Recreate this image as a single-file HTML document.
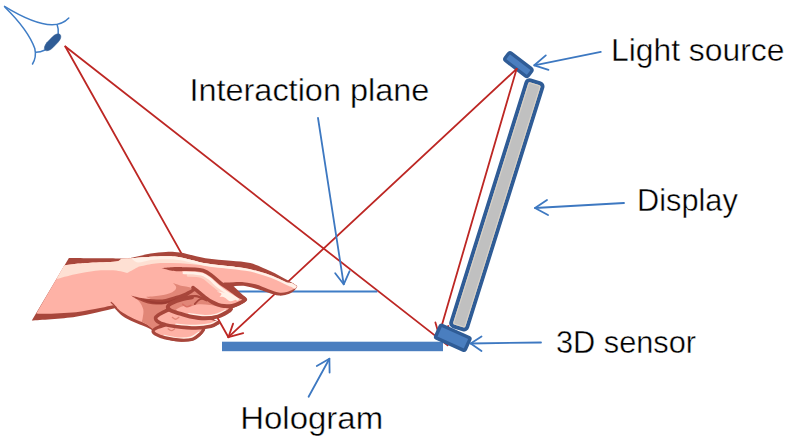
<!DOCTYPE html>
<html>
<head>
<meta charset="utf-8">
<title>Hologram interaction diagram</title>
<style>
  html, body { margin: 0; padding: 0; background: #ffffff; }
  body { width: 793px; height: 444px; overflow: hidden; font-family: "Liberation Sans", sans-serif; }
  svg { display: block; }
  .lbl { font-family: "Liberation Sans", sans-serif; font-size: 31.6px; fill: #000000; stroke: #ffffff; stroke-width: 0.4px; }
  .red { stroke: #bd2724; stroke-width: 1.8; fill: none; stroke-linecap: round; stroke-linejoin: round; }
  .blu { stroke: #3d78c1; stroke-width: 1.8; fill: none; stroke-linecap: round; stroke-linejoin: round; }
</style>
</head>
<body>
<svg width="793" height="444" viewBox="0 0 793 444">
  <rect x="0" y="0" width="793" height="444" fill="#ffffff"/>

  <!-- ============ light source ============ -->
  <g transform="translate(518.4 64.6) rotate(37.5)">
    <rect x="-14.6" y="-4.7" width="29.2" height="9.4" rx="2.2" ry="2.2" fill="#4a7ebf" stroke="#2f5c96" stroke-width="3.3"/>
  </g>

  <!-- ============ red rays ============ -->
  <g class="red">
    <!-- eye -> hologram left end (passes behind the hand) -->
    <line x1="65.3" y1="46.5" x2="228.4" y2="337.2"/>
    <!-- eye -> 3D sensor -->
    <line x1="65.3" y1="46.5" x2="447.6" y2="345.4"/>
    <!-- light source -> hologram left end, with arrow head -->
    <line x1="516.6" y1="68.9" x2="228.4" y2="337.2"/>
    <polyline points="233.1,323.6 228.4,337.2 243.2,333.1"/>
    <!-- light source -> 3D sensor, with arrow head -->
    <line x1="516.6" y1="68.9" x2="439" y2="335"/>
    <polyline points="435.4,322.4 439,335 448.4,326"/>
  </g>

  <!-- ============ interaction plane (thin) ============ -->
  <line x1="236.5" y1="291.4" x2="377.3" y2="291.4" stroke="#3f7dc6" stroke-width="2"/>

  <!-- ============ hologram (thick bar) ============ -->
  <rect x="222" y="341.7" width="221" height="9.5" fill="#4a7ebf"/>

  <!-- ============ display ============ -->
  <g transform="translate(496.7 205.3) rotate(17.4)">
    <rect x="-8.35" y="-129.4" width="16.7" height="257.8" rx="3.2" ry="3.2" fill="#c0c0c0" stroke="#2f5c96" stroke-width="3.9"/>
    <rect x="-5.9" y="-126.9" width="11.8" height="252.8" rx="1.6" ry="1.6" fill="none" stroke="#d8d1c6" stroke-width="1.1"/>
  </g>

  <!-- ============ 3D sensor ============ -->
  <g transform="translate(452.8 337.8) rotate(24.3)">
    <rect x="-16.2" y="-6.9" width="32.4" height="13.8" rx="1.6" ry="1.6" fill="#4a7ebf" stroke="#2f5c96" stroke-width="3.5"/>
  </g>

  <!-- ============ blue pointer arrows ============ -->
  <g class="blu">
    <!-- interaction plane -->
    <line x1="318" y1="118" x2="343.7" y2="284.3"/>
    <polyline points="335.2,273.3 343.7,284.3 349.6,271.2"/>
    <!-- light source -->
    <line x1="600.8" y1="51.9" x2="534.3" y2="65.3"/>
    <polyline points="545.8,55.4 534.3,65.3 548.5,69.8"/>
    <!-- display -->
    <line x1="624" y1="203" x2="535" y2="208"/>
    <polyline points="547,200 535,208 548,215"/>
    <!-- 3D sensor -->
    <line x1="541" y1="342.5" x2="470.7" y2="343.5"/>
    <polyline points="481.5,336.5 470.7,343.5 481.5,351"/>
    <!-- hologram -->
    <line x1="308.6" y1="396.8" x2="329.4" y2="358.8"/>
    <polyline points="316.8,366 329.4,358.8 329.6,372.6"/>
  </g>

  <!-- ============ labels ============ -->
  <text class="lbl" x="189.4" y="100.6" textLength="240" lengthAdjust="spacingAndGlyphs">Interaction plane</text>
  <text class="lbl" x="611" y="60.8" textLength="173.4" lengthAdjust="spacingAndGlyphs">Light source</text>
  <text class="lbl" x="637.1" y="210.6" textLength="100.7" lengthAdjust="spacingAndGlyphs">Display</text>
  <text class="lbl" x="556" y="353" textLength="140" lengthAdjust="spacingAndGlyphs">3D sensor</text>
  <text class="lbl" x="240.2" y="428.5" textLength="143" lengthAdjust="spacingAndGlyphs">Hologram</text>

  <!-- ============ eye ============ -->
  <g id="eye" fill="none" stroke="#3f7dc6" stroke-width="1.5" stroke-linecap="round">
    <path d="M4.5 6.3 C 22 17, 40 24.5, 52 24.8 C 60 24.8, 65 22, 68.8 18"/>
    <path d="M5 7.2 C 18 20, 30 35, 34.8 48.5 C 36 54, 35 60, 32.5 64"/>
    <path d="M57.2 25 C 58.3 28, 58.5 31, 58.2 33.5"/>
    <path d="M35.8 52.3 C 39 52.3, 42 51.5, 45 50"/>
    <rect x="-10.8" y="-3.9" width="21.6" height="7.8" rx="7" ry="3.9" transform="translate(52.6 42.3) rotate(-46)" fill="#2f5c96" stroke="#2f5c96" stroke-width="0.5"/>
  </g>

  <!-- HAND_START -->
<g id="hand">
<path d="M68.9 258.1C77.6 258.2 110.9 258.5 121.3 258.4 C131.7 258.3 126.4 258.5 131.3 257.7 C136.2 256.9 144.8 254.6 150.6 253.6 C156.3 252.6 160.9 252.1 165.8 251.9 C170.7 251.7 173.4 251.6 180.0 252.6 C186.6 253.6 197.0 256.8 205.4 258.2 C213.8 259.6 223.2 259.9 230.7 260.7 C238.2 261.5 243.7 261.4 250.3 263.1 C257.0 264.9 264.7 268.5 270.6 271.2 C276.5 273.9 281.8 277.1 285.8 279.3 C289.9 281.5 293.0 283.2 294.9 284.4 C296.8 285.6 297.4 285.5 297.2 286.6 C297.0 287.7 295.2 289.9 293.5 291.2 C291.8 292.5 289.3 293.9 286.8 294.6 C284.3 295.3 281.8 295.9 278.7 295.6 C275.6 295.3 272.4 294.0 268.5 292.8 C264.6 291.6 259.8 289.8 255.4 288.6 C251.0 287.4 245.7 286.0 242.0 285.6 C238.3 285.2 234.9 286.2 233.5 286.3C234.7 287.4 238.6 291.0 240.9 293.2 C243.2 295.4 247.2 297.5 247.2 299.4 C247.2 301.3 243.3 303.0 240.9 304.5 C238.5 306.0 234.5 307.4 232.7 308.3 C230.9 309.2 230.6 309.9 230.2 310.2C229.2 311.1 226.7 314.1 224.0 315.5 C221.3 316.9 214.9 317.8 214.0 318.8 C213.1 319.8 217.8 321.1 218.6 321.6C218.7 321.9 219.8 322.7 219.0 323.5 C218.2 324.3 216.3 325.6 214.0 326.5 C211.7 327.4 206.8 327.8 205.0 328.6 C203.2 329.4 203.5 330.8 203.2 331.2C202.9 331.8 203.1 333.0 201.5 334.5 C199.9 336.0 197.3 338.8 193.6 340.0 C189.9 341.2 184.2 341.8 179.4 341.6 C174.6 341.4 168.9 340.1 165.0 338.8 C161.1 337.5 158.1 335.4 156.0 334.0 C153.9 332.6 154.4 331.8 152.6 330.6 C150.8 329.4 148.1 328.0 145.0 326.6 C141.9 325.2 137.6 323.9 133.8 322.1 C130.1 320.3 125.7 318.2 122.5 315.9 C119.3 313.6 115.9 309.6 114.6 308.3C108.1 309.7 89.5 314.8 75.7 316.8 C61.9 318.9 39.1 320.0 31.8 320.6L68.9 258.1Z" fill="#a8463b" />
<path d="M64.2 265.4C66.5 265.1 73.7 264.1 78.0 263.6 C82.3 263.2 84.0 263.1 90.3 262.7 C96.5 262.3 110.3 262.2 115.5 261.5 C120.7 260.8 120.3 259.2 121.3 258.7L131.3 258.3C134.5 258.1 144.8 257.2 150.6 256.8 C156.3 256.4 160.7 256.1 165.8 256.2 C170.9 256.3 174.4 256.2 181.0 257.4 C187.6 258.6 197.1 261.7 205.4 263.2 C213.7 264.7 223.2 265.3 230.7 266.3 C238.2 267.3 243.7 267.7 250.3 269.2 C257.0 270.7 264.7 273.2 270.6 275.3 C276.5 277.4 282.3 280.6 285.8 281.9 C289.3 283.2 289.8 282.3 291.6 283.1 C293.5 283.9 296.7 285.4 296.9 286.5 C297.1 287.6 294.6 288.7 292.9 289.6 C291.2 290.5 289.2 291.5 286.8 292.0 C284.4 292.5 281.8 293.0 278.7 292.5 C275.6 292.0 272.4 290.6 268.5 289.2 C264.6 287.8 260.1 285.4 255.4 284.2 C250.7 283.0 244.2 282.2 240.1 282.0 C235.9 281.8 232.1 282.7 230.5 282.8L226.0 286.0C224.2 287.0 220.0 289.7 215.0 292.0 C210.0 294.3 203.5 297.7 196.0 300.0 C188.5 302.3 176.7 303.0 170.0 306.0 C163.3 309.0 158.8 314.0 156.0 318.0 C153.2 322.0 154.2 328.4 153.5 330.0 C152.8 331.6 153.0 328.7 151.6 327.6 C150.2 326.5 148.0 325.0 145.0 323.5 C142.0 322.0 137.6 320.6 133.8 318.8 C130.1 317.0 125.6 314.7 122.5 312.6 C119.4 310.5 116.5 307.3 115.3 306.2C114.9 306.1 115.5 305.0 113.0 305.3 C110.5 305.6 106.2 307.0 100.0 308.1 C93.8 309.2 85.2 311.2 76.0 312.2 C66.8 313.1 51.6 313.6 45.0 313.8 C38.4 314.0 37.8 313.5 36.3 313.4L64.2 265.4Z" fill="#feb2a6" />
<path d="M111.2 302.4C111.6 302.8 112.8 303.8 113.6 304.6 C114.4 305.4 115.8 306.9 116.2 307.4" fill="none" stroke="#a8463b" stroke-width="1.3" stroke-linecap="round" stroke-linejoin="round" />
<path d="M64.2 265.4C66.5 265.1 73.7 264.1 78.0 263.6 C82.3 263.2 84.0 263.1 90.3 262.7 C96.5 262.3 110.3 262.2 115.5 261.5 C120.7 260.8 120.3 259.2 121.3 258.7L131.3 258.3C134.5 258.1 144.8 257.2 150.6 256.8 C156.3 256.4 160.7 256.1 165.8 256.2 C170.9 256.3 174.4 256.2 181.0 257.4 C187.6 258.6 197.1 261.7 205.4 263.2 C213.7 264.7 223.9 265.4 230.7 266.3 C237.5 267.2 243.4 268.4 246.0 268.8C243.3 268.8 236.0 269.0 230.0 268.6 C224.0 268.2 216.7 267.0 210.0 266.2 C203.3 265.4 196.3 264.4 190.0 263.9 C183.7 263.4 177.7 263.2 172.0 263.1 C166.3 263.0 160.9 262.9 155.6 263.4 C150.3 263.9 143.8 265.4 140.4 266.3 C137.0 267.2 137.2 267.7 135.0 268.8 C132.8 269.9 128.6 272.3 127.3 273.0C126.2 272.7 123.4 271.7 120.6 271.2 C117.8 270.7 114.7 270.3 110.5 270.2 C106.3 270.1 101.3 270.0 95.4 270.7 C89.5 271.4 81.7 272.8 75.2 274.2 C68.7 275.6 59.7 278.2 56.6 279.0L64.2 265.4Z" fill="#fee0d3" />
<path d="M131.3 258.3C134.5 258.1 144.8 257.2 150.6 256.8 C156.3 256.4 160.7 256.1 165.8 256.2 C170.9 256.3 174.4 256.2 181.0 257.4 C187.6 258.6 197.1 261.7 205.4 263.2 C213.7 264.7 223.2 265.3 230.7 266.3 C238.2 267.3 243.7 267.7 250.3 269.2 C257.0 270.7 264.7 273.2 270.6 275.3 C276.5 277.4 282.3 280.6 285.8 281.9 C289.3 283.2 289.8 282.4 291.6 283.1 C293.4 283.9 295.9 285.8 296.8 286.4C296.4 286.8 295.7 288.6 294.6 288.6 C293.6 288.6 292.1 287.3 290.5 286.6 C288.9 285.9 288.4 285.7 285.0 284.2 C281.6 282.7 275.8 279.7 270.0 277.6 C264.2 275.5 256.9 273.1 250.3 271.6 C243.8 270.2 238.2 269.8 230.7 268.9 C223.2 267.9 213.7 267.3 205.4 265.9 C197.1 264.5 187.6 261.4 181.0 260.3 C174.4 259.2 170.9 259.2 165.8 259.2 C160.7 259.1 155.2 259.4 150.6 260.0 C146.0 260.6 141.2 262.8 138.0 262.5 C134.8 262.2 132.4 259.0 131.3 258.3Z" fill="#fff1e8" />
<path d="M133.0 297.3C134.0 297.9 137.3 299.1 139.0 301.2 C140.7 303.2 142.7 306.7 143.3 309.6 C143.9 312.5 142.9 316.5 142.6 318.5 C142.3 320.5 141.8 321.1 141.6 321.6C142.5 322.1 145.0 323.2 147.0 324.6 C149.0 326.0 152.4 329.1 153.5 330.0C154.6 329.2 158.2 328.0 160.0 325.0 C161.8 322.0 162.3 315.5 164.0 312.0 C165.7 308.5 169.0 305.3 170.0 304.0C168.3 303.8 163.7 303.4 160.0 303.0 C156.3 302.6 152.5 302.4 148.0 301.5 C143.5 300.6 135.5 298.0 133.0 297.3Z" fill="#e18677" />
<path d="M172.8 282.8C173.4 283.6 176.3 285.9 176.2 287.5 C176.1 289.1 174.9 290.8 172.2 292.2 C169.5 293.6 164.4 294.8 160.0 295.6 C155.6 296.4 148.3 296.8 146.0 297.0C147.7 297.6 152.3 299.9 156.0 300.5 C159.7 301.1 163.9 301.2 168.0 300.5 C172.1 299.8 176.3 297.9 180.7 296.0 C185.1 294.1 192.2 290.0 194.5 288.8C193.1 288.4 188.5 287.2 186.0 286.6 C183.5 286.0 181.6 285.8 179.4 285.2 C177.2 284.6 173.9 283.2 172.8 282.8Z" fill="#e18677" />
<path d="M170.0 304.0C171.7 303.2 175.9 301.9 180.0 299.5 C184.1 297.1 192.1 291.2 194.5 289.5C196.1 290.7 200.8 294.2 204.0 296.5 C207.2 298.8 209.7 301.5 214.0 303.5 C218.3 305.5 227.3 307.7 230.0 308.5C228.7 309.1 227.0 311.4 222.0 312.0 C217.0 312.6 207.0 312.3 200.0 312.0 C193.0 311.7 185.0 311.3 180.0 310.0 C175.0 308.7 171.7 305.0 170.0 304.0Z" fill="#e18677" />
<path d="M130.6 295.4C132.7 295.9 138.7 297.5 143.0 298.2 C147.3 298.9 152.8 299.3 156.5 299.4 C160.2 299.5 162.6 299.4 165.5 298.9 C168.4 298.4 171.1 297.5 174.0 296.6 C176.9 295.7 179.6 295.1 183.0 293.6 C186.4 292.1 192.4 288.8 194.3 287.8L195.8 290.2C193.8 291.6 187.1 296.4 183.5 298.3 C179.9 300.2 177.0 300.9 174.0 301.8 C171.0 302.7 168.4 303.4 165.5 303.9 C162.6 304.4 159.4 304.7 156.5 304.6 C153.6 304.5 150.9 304.2 148.0 303.4 C145.1 302.6 141.9 301.3 139.0 300.0 C136.1 298.7 132.0 296.2 130.6 295.4Z" fill="#a8463b" />
<path d="M140.0 298.8C142.0 299.2 147.8 300.8 152.0 301.3 C156.2 301.8 161.0 302.3 165.5 301.6 C170.0 300.9 176.8 297.9 179.0 297.2C176.8 298.2 170.0 302.4 165.5 303.4 C161.0 304.4 156.2 303.8 152.0 303.0 C147.8 302.2 142.0 299.5 140.0 298.8Z" fill="#9c3c33" />
<path d="M165.0 325.0C162.2 325.1 160.0 326.5 158.0 327.4 C156.0 328.3 153.6 329.4 153.2 330.5 C152.8 331.6 153.5 333.0 155.5 334.2 C157.5 335.4 161.2 336.9 165.4 337.9 C169.6 338.9 176.1 340.0 180.6 340.2 C185.1 340.4 189.4 340.3 192.7 339.2 C196.0 338.1 198.7 335.2 200.5 333.6 C202.3 332.0 205.3 330.5 203.6 329.6 C201.8 328.8 194.8 329.0 190.0 328.5 C185.2 328.0 179.2 327.4 175.0 326.8 C170.8 326.2 167.8 324.9 165.0 325.0Z" fill="#feb2a6" />
<path d="M164.0 335.6C166.3 336.0 173.5 337.9 178.0 338.2 C182.5 338.5 187.5 338.2 191.0 337.2 C194.5 336.2 197.5 333.2 198.8 332.4" fill="none" stroke="#fff1e8" stroke-width="1.6" stroke-linecap="round" stroke-linejoin="round" />
<path d="M168.2 328.9C168.7 329.2 170.3 330.6 171.4 330.6 C172.5 330.6 174.1 329.2 174.6 328.9" fill="none" stroke="#e18677" stroke-width="1.4" stroke-linecap="round" stroke-linejoin="round" />
<path d="M165.0 325.0C163.8 325.4 160.0 326.5 158.0 327.4 C156.0 328.3 153.6 329.4 153.2 330.5 C152.8 331.6 153.5 333.0 155.5 334.2 C157.5 335.4 161.2 336.9 165.4 337.9 C169.6 338.9 176.1 340.0 180.6 340.2 C185.1 340.4 189.4 340.3 192.7 339.2 C196.0 338.1 198.7 335.2 200.5 333.6 C202.3 332.0 203.1 330.3 203.6 329.6" fill="none" stroke="#a8463b" stroke-width="3.2" stroke-linecap="round" stroke-linejoin="round" />
<path d="M168.5 309.8C167.1 309.8 165.2 311.3 163.5 312.2 C161.8 313.1 159.3 314.3 158.0 315.2 C156.7 316.1 155.7 316.8 155.6 317.8 C155.5 318.8 156.0 320.3 157.6 321.4 C159.2 322.5 162.0 323.8 165.0 324.6 C168.0 325.5 170.4 325.9 175.5 326.5 C180.6 327.1 189.9 328.0 195.8 328.0 C201.7 328.0 207.2 327.2 211.0 326.3 C214.8 325.4 219.4 323.9 218.4 322.6 C217.4 321.3 210.6 319.6 205.0 318.5 C199.4 317.4 190.5 317.1 185.0 316.0 C179.5 314.9 174.8 313.0 172.0 312.0 C169.2 311.0 169.9 309.8 168.5 309.8Z" fill="#feb2a6" />
<path d="M176.0 324.4C179.3 324.6 190.1 325.7 195.8 325.7 C201.5 325.7 206.6 324.9 210.0 324.2 C213.4 323.5 215.0 321.9 216.0 321.5" fill="none" stroke="#fff1e8" stroke-width="1.7" stroke-linecap="round" stroke-linejoin="round" />
<path d="M172.4 317.4C172.9 317.7 174.5 319.2 175.6 319.2 C176.7 319.2 178.3 317.7 178.8 317.4" fill="none" stroke="#e18677" stroke-width="1.4" stroke-linecap="round" stroke-linejoin="round" />
<path d="M168.5 309.8C167.7 310.2 165.2 311.3 163.5 312.2 C161.8 313.1 159.3 314.3 158.0 315.2 C156.7 316.1 155.7 316.8 155.6 317.8 C155.5 318.8 156.0 320.3 157.6 321.4 C159.2 322.5 162.0 323.8 165.0 324.6 C168.0 325.5 170.4 325.9 175.5 326.5 C180.6 327.1 189.9 328.0 195.8 328.0 C201.7 328.0 207.2 327.2 211.0 326.3 C214.8 325.4 217.2 323.2 218.4 322.6" fill="none" stroke="#a8463b" stroke-width="3.6" stroke-linecap="round" stroke-linejoin="round" />
<path d="M200.0 297.5C197.0 297.2 194.9 297.0 192.0 297.3 C189.1 297.6 185.9 298.3 182.7 299.2 C179.5 300.1 175.1 301.5 172.6 302.7 C170.1 303.9 168.1 305.3 167.8 306.6 C167.5 307.9 169.0 309.4 171.0 310.6 C173.0 311.8 176.8 312.6 180.0 313.6 C183.2 314.6 185.8 315.7 190.0 316.5 C194.2 317.3 200.3 318.3 205.0 318.3 C209.7 318.3 214.2 317.6 218.0 316.5 C221.8 315.4 225.8 312.9 228.0 311.6 C230.2 310.4 231.5 310.3 231.0 309.0 C230.5 307.7 228.5 305.7 225.0 304.0 C221.5 302.3 214.2 300.1 210.0 299.0 C205.8 297.9 203.0 297.8 200.0 297.5Z" fill="#e18677" />
<path d="M176.0 309.5C177.2 308.9 180.7 306.6 183.0 306.2 C185.3 305.8 187.7 307.1 190.0 306.8 C192.3 306.5 193.7 304.8 197.0 304.5 C200.3 304.2 204.8 304.3 210.0 305.0 C215.2 305.7 225.0 307.9 228.0 308.5C227.7 309.2 227.7 311.2 226.0 312.5 C224.3 313.8 221.5 315.2 218.0 316.0 C214.5 316.8 209.7 317.5 205.0 317.5 C200.3 317.5 194.2 316.6 190.0 315.8 C185.8 315.0 182.3 313.9 180.0 312.8 C177.7 311.8 176.7 310.1 176.0 309.5Z" fill="#feb2a6" />
<path d="M189.0 313.9C191.7 314.2 200.3 315.8 205.0 315.8 C209.7 315.9 213.6 315.1 217.0 314.2 C220.4 313.3 224.1 311.0 225.5 310.4" fill="none" stroke="#fff1e8" stroke-width="1.7" stroke-linecap="round" stroke-linejoin="round" />
<path d="M182.6 304.2C183.3 304.6 185.4 306.6 186.8 306.8 C188.2 307.0 190.3 305.5 191.0 305.2" fill="none" stroke="#d86f63" stroke-width="1.4" stroke-linecap="round" stroke-linejoin="round" />
<path d="M192.0 297.3C190.4 297.6 185.9 298.3 182.7 299.2 C179.5 300.1 175.1 301.5 172.6 302.7 C170.1 303.9 168.1 305.3 167.8 306.6 C167.5 307.9 169.0 309.4 171.0 310.6 C173.0 311.8 176.8 312.6 180.0 313.6 C183.2 314.6 185.8 315.7 190.0 316.5 C194.2 317.3 200.3 318.3 205.0 318.3 C209.7 318.3 214.2 317.6 218.0 316.5 C221.8 315.4 225.8 312.9 228.0 311.6 C230.2 310.4 230.5 309.4 231.0 309.0" fill="none" stroke="#a8463b" stroke-width="3.9" stroke-linecap="round" stroke-linejoin="round" />
<path d="M186.0 297.2C187.7 297.0 192.6 295.7 196.0 296.2 C199.4 296.7 204.8 299.6 206.5 300.3" fill="none" stroke="#a8463b" stroke-width="2.2" stroke-linecap="round" stroke-linejoin="round" />
<path d="M194.8 304.0C195.5 303.3 197.4 300.9 198.8 300.0 C200.2 299.1 202.7 298.7 203.5 298.4" fill="none" stroke="#a8463b" stroke-width="1.8" stroke-linecap="round" stroke-linejoin="round" />
<path d="M163.0 268.4C163.0 266.6 174.7 269.0 180.0 269.2 C185.3 269.4 191.2 269.1 195.0 269.3 C198.8 269.5 200.3 269.7 203.0 270.6 C205.7 271.6 208.0 272.9 211.0 275.0 C214.0 277.1 217.8 281.0 221.0 283.4 C224.2 285.8 227.2 287.4 230.0 289.4 C232.8 291.4 235.5 293.7 238.0 295.4 C240.5 297.1 244.5 298.1 244.8 299.4 C245.1 300.7 242.1 301.9 240.0 303.0 C237.9 304.1 235.2 305.4 232.0 305.8 C228.8 306.2 224.3 306.2 221.0 305.6 C217.7 305.0 214.8 303.5 212.0 302.0 C209.2 300.5 206.5 298.4 204.0 296.5 C201.5 294.6 198.8 292.1 197.0 290.6 C195.2 289.1 195.8 289.4 193.0 287.6 C190.2 285.8 185.0 283.2 180.0 280.0 C175.0 276.8 163.0 270.2 163.0 268.4Z" fill="#feb2a6" />
<path d="M188.0 275.4C189.5 275.5 194.3 275.4 197.0 275.8 C199.7 276.2 201.6 276.6 204.0 278.0 C206.4 279.4 208.7 281.7 211.5 284.0 C214.3 286.3 218.1 289.4 221.0 291.6 C223.9 293.8 227.7 296.1 229.0 297.0" fill="none" stroke="#fdd2c5" stroke-width="2.6" stroke-linecap="round" stroke-linejoin="round" />
<path d="M184.0 272.9C185.8 272.9 191.8 272.9 195.0 273.2 C198.2 273.5 200.6 273.8 203.0 274.7 C205.4 275.6 206.9 276.7 209.5 278.7 C212.1 280.7 215.4 284.2 218.5 286.7 C221.6 289.2 224.8 291.4 228.0 293.5 C231.2 295.6 235.9 298.3 237.5 299.3" fill="none" stroke="#fff1e8" stroke-width="2.9" stroke-linecap="round" stroke-linejoin="round" />
<path d="M217.0 291.5C218.5 291.8 222.8 291.9 226.0 293.2 C229.2 294.5 234.3 298.4 236.0 299.5C235.0 299.8 232.0 301.6 230.0 301.2 C228.0 300.8 225.8 297.9 224.0 297.2 C222.2 296.5 220.2 296.9 219.5 296.8C219.8 296.3 221.9 294.7 221.5 293.8 C221.1 292.9 217.8 291.9 217.0 291.5Z" fill="#fff1e8" />
<path d="M161.5 268.0C163.2 267.9 168.6 267.3 172.0 267.2 C175.4 267.1 180.3 267.1 182.0 267.1L182.0 271.3C180.3 271.2 175.4 271.4 172.0 270.8 C168.6 270.2 163.2 268.5 161.5 268.0Z" fill="#a8463b" />
<path d="M180.0 269.2C182.5 269.2 191.2 269.1 195.0 269.3 C198.8 269.5 200.3 269.7 203.0 270.6 C205.7 271.6 208.0 272.9 211.0 275.0 C214.0 277.1 217.8 281.0 221.0 283.4 C224.2 285.8 227.2 287.4 230.0 289.4 C232.8 291.4 235.5 293.7 238.0 295.4 C240.5 297.1 244.5 298.1 244.8 299.4 C245.1 300.7 242.1 301.9 240.0 303.0 C237.9 304.1 235.2 305.4 232.0 305.8 C228.8 306.2 224.3 306.2 221.0 305.6 C217.7 305.0 214.8 303.5 212.0 302.0 C209.2 300.5 206.5 298.4 204.0 296.5 C201.5 294.6 198.8 292.1 197.0 290.6 C195.2 289.1 193.7 288.1 193.0 287.6" fill="none" stroke="#a8463b" stroke-width="3.7" stroke-linecap="round" stroke-linejoin="round" />
<path d="M224.5 284.3C225.8 284.3 229.1 284.3 232.0 284.2 C234.9 284.1 240.3 283.9 242.0 283.9" fill="none" stroke="#a8463b" stroke-width="3.4" stroke-linecap="round" stroke-linejoin="round" />
</g>
<!-- HAND_END -->
</svg>
</body>
</html>
